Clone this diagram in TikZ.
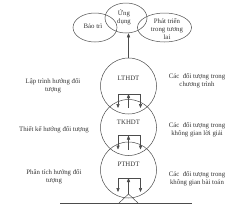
\documentclass[tikz,border=0pt]{standalone}
\usepackage{fontspec}
\setmainfont{Liberation Serif}
\usetikzlibrary{arrows.meta,shapes.geometric}
\begin{document}
\begin{tikzpicture}[x=1pt,y=-1pt,
  ln/.style={draw=black!70,line width=0.5pt},
  lbl/.style={font=\fontsize{6.8}{7.8}\selectfont,text=black!80,align=center,inner sep=0pt},
  ring/.style={ln,circle,minimum size=56pt,inner sep=0pt},
  oval/.style={ln,ellipse,inner sep=0pt},
  arr/.style={ln,-{Triangle[length=4pt,width=3.2pt]}}]
\useasboundingbox (0,0) rectangle (241,209);
% top ellipses
\node[oval,minimum width=44pt,minimum height=29pt] (bao) at (95,27.5) {};
\node[oval,minimum width=54pt,minimum height=29pt] (phat) at (164.5,27.5) {};
\node[oval,minimum width=42pt,minimum height=30pt] (ung) at (126,18) {};
\node[lbl] (baot) at (93,26.5) {Bảo trì};
\node[lbl] (ungt) at (124,17) {Ứng\\dụng};
\node[lbl] (phatt) at (167,29) {Phát triển\\trong tương\\lai};
% circles
\node[ring] (c1) at (128.5,86) {};
\node[ring] (c2) at (128.5,127.5) {};
\node[ring] (c3) at (128.5,170) {};
\node[lbl] (t1) at (128.5,78) {LTHDT};
\node[lbl] (t2) at (128.5,122) {TKHDT};
\node[lbl] (t3) at (128.5,164) {PTHDT};
% arrow to top
\draw[arr] (c1.north) -- (c1.north |- ung.south);
% brackets
\foreach \c/\n in {86/a,127.5/b,170/c}{
  \coordinate (l\n) at (118,\c+8);
  \coordinate (r\n) at (140.5,\c+8);
  \coordinate (m\n) at (128.5,\c+8);
  \coordinate (ld\n) at (118,\c+22);
  \coordinate (rd\n) at (140.5,\c+22);
  \coordinate (mb\n) at (128.5,\c+22);
  \draw[ln] (l\n) -- (r\n);
  \draw[arr] (l\n) -- (ld\n);
  \draw[arr] (r\n) -- (rd\n);
}
\draw[arr] (mba) -- (ma);
\draw[arr] (mbb) -- (mb);
\coordinate (apex) at (128.5,194);
\draw[arr] (apex) -- (mc);
% base line and V
\coordinate (gl) at (60,203);
\coordinate (gr) at (192,203);
\draw[ln] (gl) -- (gr);
\coordinate (vl) at (119,203);
\coordinate (vr) at (138,203);
\draw[ln] (vl) -- (apex) -- (vr);
% left labels
\node[lbl] (L1) at (53,85.5) {Lập trình hướng đối\\tượng};
\node[lbl] (L2) at (54,130) {Thiết kế hướng đối tượng};
\node[lbl] (L3) at (54,177) {Phân tích hướng đối\\tượng};
% right labels
\node[lbl] (R1) at (197,81) {Các~ đối tượng trong\\chương trình};
\node[lbl] (R2) at (197,130) {Các~ đối tượng trong\\không gian lời giải};
\node[lbl] (R3) at (197,178.5) {Các~ đối tượng trong\\không gian bài toán};
\end{tikzpicture}
\end{document}
